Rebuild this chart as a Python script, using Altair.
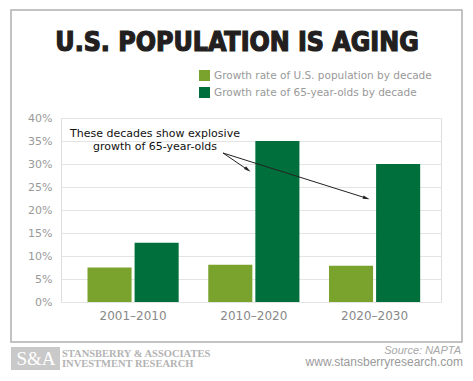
import altair as alt
import pandas as pd

# ---- data ----
title_text = ["U.S. POPULATION IS AGING"]
decades = ["2001–2010", "2010–2020", "2020–2030"]
series = ["Growth rate of U.S. population by decade", "Growth rate of 65-year-olds by decade"]
us_population_growth = [0.075, 0.081, 0.079]
seniors_growth = [0.129, 0.350, 0.300]
colors = ["#7aa32e", "#006f3c"]
y_tick_values = [0, 0.05, 0.10, 0.15, 0.20, 0.25, 0.30, 0.35, 0.40]
note_lines = ["These decades show explosive", "growth of 65-year-olds"]
brand_lines = ["STANSBERRY & ASSOCIATES", "INVESTMENT RESEARCH"]
source_text = ["Source: NAPTA"]
url_text = ["www.stansberryresearch.com"]
logo_text = ["S&A"]

rows = []
for d, a, b in zip(decades, us_population_growth, seniors_growth):
    rows.append({"decade": d, "series": series[0], "value": a})
    rows.append({"decade": d, "series": series[1], "value": b})
df = pd.DataFrame(rows)

W, H = 380, 184
LABEL_FONT = "DejaVu Sans"

frame = alt.Chart(pd.DataFrame({"k": [0]})).mark_rect(
    fill="transparent", stroke="#b0b0b0", strokeWidth=1.5
).encode(x=alt.value(-50), x2=alt.value(401), y=alt.value(-108), y2=alt.value(224))

bars = alt.Chart(df).mark_bar().encode(
    x=alt.X("decade:N", sort=decades,
            scale=alt.Scale(paddingInner=0.245, paddingOuter=0.196, align=0.56),
            axis=alt.Axis(title=None, labelAngle=0, labelColor="#888888", labelFontSize=12,
                          labelFont=LABEL_FONT, labelPadding=8, ticks=False, domain=False, grid=False)),
    xOffset=alt.XOffset("series:N", sort=series, scale=alt.Scale(paddingInner=0.064)),
    y=alt.Y("value:Q", scale=alt.Scale(domain=[0, 0.4], nice=False),
            axis=alt.Axis(title=None, format=".0%", values=y_tick_values, labelColor="#999999",
                          labelFontSize=11, labelFont=LABEL_FONT, labelPadding=9, ticks=False,
                          domain=False, gridColor="#e4e4e4")),
    color=alt.Color("series:N", sort=series,
                    scale=alt.Scale(domain=series, range=colors),
                    legend=alt.Legend(orient="none", legendX=138, legendY=-48, title=None,
                                      symbolType="square", symbolSize=121, symbolStrokeWidth=0,
                                      symbolOpacity=1, labelFont=LABEL_FONT, labelFontSize=10.5,
                                      labelColor="#999999", labelOffset=4, rowPadding=6,
                                      padding=0, labelLimit=400)),
)

title = alt.Chart(pd.DataFrame({"t": title_text})).mark_text(
    font="DejaVu Sans Condensed", fontSize=26.5, fontWeight="bold", align="center",
    baseline="alphabetic", color="#231f20", stroke="#231f20", strokeWidth=1.2
).encode(x=alt.value(176), y=alt.value(-67), text="t:N")

note = alt.Chart(pd.DataFrame({"t": note_lines, "i": [0, 1]})).mark_text(
    font=LABEL_FONT, fontSize=11, align="center", baseline="middle", color="#111111"
).encode(x=alt.value(94), y=alt.Y("i:Q", scale=alt.Scale(domain=[0, 1], range=[16, 29]), axis=None), text="t:N")

arrow_color = "#222222"
line1 = alt.Chart(pd.DataFrame({"k": [0]})).mark_rule(color=arrow_color, strokeWidth=1).encode(
    x=alt.value(162), y=alt.value(35), x2=alt.value(187), y2=alt.value(52))
line2 = alt.Chart(pd.DataFrame({"k": [0]})).mark_rule(color=arrow_color, strokeWidth=1).encode(
    x=alt.value(162), y=alt.value(35), x2=alt.value(305), y2=alt.value(80))
head_shape = "M0,-1L0.45,0.8L-0.45,0.8Z"
head1 = alt.Chart(pd.DataFrame({"k": [0]})).mark_point(
    shape=head_shape, filled=True, size=60, angle=126, color=arrow_color, opacity=1
).encode(x=alt.value(186.5), y=alt.value(51.5))
head2 = alt.Chart(pd.DataFrame({"k": [0]})).mark_point(
    shape=head_shape, filled=True, size=60, angle=107, color=arrow_color, opacity=1
).encode(x=alt.value(305), y=alt.value(80))

logo_box = alt.Chart(pd.DataFrame({"k": [0]})).mark_rect(fill="#c9c9c9").encode(
    x=alt.value(-50), x2=alt.value(-1), y=alt.value(229), y2=alt.value(252))
logo = alt.Chart(pd.DataFrame({"t": logo_text})).mark_text(
    font="Liberation Serif", fontSize=19, align="center", baseline="alphabetic", color="white"
).encode(x=alt.value(-25), y=alt.value(247), text="t:N")
brand = alt.Chart(pd.DataFrame({"t": brand_lines, "i": [0, 1]})).mark_text(
    font="Liberation Serif", fontSize=10.5, fontWeight="bold", align="left", baseline="alphabetic",
    color="#b3b3b3"
).encode(x=alt.value(1), y=alt.Y("i:Q", scale=alt.Scale(domain=[0, 1], range=[239, 249]), axis=None), text="t:N")
source = alt.Chart(pd.DataFrame({"t": source_text})).mark_text(
    font="Liberation Sans", fontSize=11, fontStyle="italic", align="right", baseline="alphabetic",
    color="#a8a8a8"
).encode(x=alt.value(400), y=alt.value(236), text="t:N")
url = alt.Chart(pd.DataFrame({"t": url_text})).mark_text(
    font="Liberation Sans", fontSize=12, align="right", baseline="alphabetic", color="#9a9a9a"
).encode(x=alt.value(402), y=alt.value(248), text="t:N")

chart = alt.layer(
    frame, bars, title, note, line1, line2, head1, head2, logo_box, logo, brand, source, url
).resolve_scale(y="independent").properties(
    width=W, height=H,
    padding={"left": 53, "top": 110, "right": 24, "bottom": 70},
    autosize=alt.AutoSizeParams(type="none"),
).configure_view(stroke="#e2e2e2").configure(background="white")

chart.save("out.html", embed_options={"renderer": "svg", "actions": False})
